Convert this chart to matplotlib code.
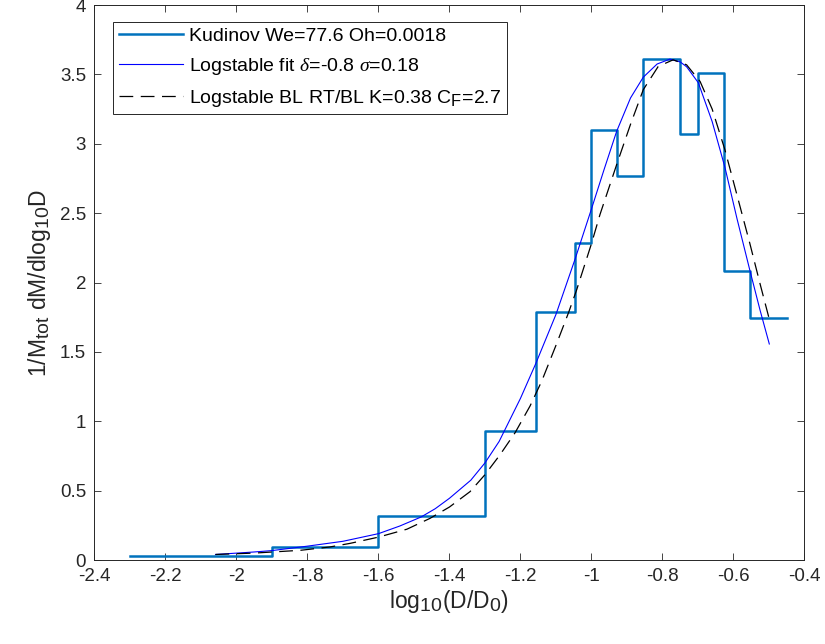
import matplotlib
matplotlib.use('Agg')
import matplotlib.pyplot as plt
import matplotlib._mathtext as mathtext_impl

# MATLAB draws sub-scripts only a little smaller than the base text
mathtext_impl.SHRINK_FACTOR = 0.85

plt.rcParams['font.family'] = ['Liberation Sans', 'DejaVu Sans']
plt.rcParams['mathtext.fontset'] = 'custom'
plt.rcParams['mathtext.rm'] = 'Liberation Sans'
plt.rcParams['mathtext.it'] = 'Liberation Serif:italic'
plt.rcParams['mathtext.default'] = 'rm'

AX_COLOR = '#262626'

# histogram (stairs) from Kudinov data
bin_edges = [-2.30, -1.90, -1.60, -1.30, -1.155, -1.046, -1.00, -0.928,
             -0.854, -0.751, -0.699, -0.626, -0.553, -0.45]
bin_values = [0.031, 0.096, 0.317, 0.932, 1.786, 2.288, 3.098, 2.769,
              3.61, 3.074, 3.511, 2.081, 1.743]

# logstable fit curve
fit_x = [-2.059, -1.95, -1.90, -1.80, -1.70, -1.60, -1.54, -1.48, -1.44,
         -1.40, -1.34, -1.30, -1.26, -1.20, -1.157, -1.10, -1.046, -1.00,
         -0.965, -0.929, -0.89, -0.854, -0.815, -0.779, -0.75, -0.732,
         -0.699, -0.66, -0.624, -0.59, -0.554, -0.525, -0.499]
fit_y = [0.040, 0.058, 0.068, 0.100, 0.135, 0.190, 0.245, 0.310, 0.370,
         0.445, 0.575, 0.700, 0.855, 1.165, 1.415, 1.770, 2.170, 2.530,
         2.810, 3.090, 3.330, 3.480, 3.575, 3.610, 3.590, 3.555,
         3.440, 3.160, 2.830, 2.460, 2.090, 1.800, 1.557]

# logstable BL RT/BL curve
bl_x = [-2.059, -1.95, -1.82, -1.737, -1.68, -1.60, -1.52, -1.455, -1.40,
        -1.342, -1.30, -1.258, -1.215, -1.173, -1.14, -1.098, -1.065,
        -1.042, -1.00, -0.976, -0.929, -0.89, -0.854, -0.812, -0.77,
        -0.732, -0.694, -0.66, -0.624, -0.59, -0.554, -0.525, -0.499]
bl_y = [0.040, 0.050, 0.070, 0.094, 0.120, 0.165, 0.222, 0.300, 0.382,
        0.493, 0.615, 0.757, 0.918, 1.110, 1.290, 1.560, 1.780,
        1.945, 2.280, 2.490, 2.850, 3.140, 3.390, 3.557, 3.605,
        3.569, 3.449, 3.250, 2.956, 2.630, 2.283, 1.990, 1.735]

fig = plt.figure(figsize=(8.25, 6.44), dpi=100)
ax = fig.add_axes([0.1145, 0.1304, 0.8606, 0.8618])

ax.step(bin_edges, bin_values + [bin_values[-1]], where='post',
        color='#0072BD', lw=1.8, label='Kudinov We=77.6 Oh=0.0018')
ax.plot(fit_x, fit_y, color='#0000FF', lw=0.8,
        label=r'Logstable fit $\mathit{\delta}$=-0.8 $\mathit{\sigma}$=0.18')
line, = ax.plot(bl_x, bl_y, color='black', lw=0.9,
                label=r'Logstable BL RT/BL K=0.38 C$_F$=2.7')
line.set_dashes([11, 6])

ax.set_xlim(-2.4, -0.4)
ax.set_ylim(0, 4)
ax.set_xticks([-2.4, -2.2, -2, -1.8, -1.6, -1.4, -1.2, -1, -0.8, -0.6, -0.4])
ax.set_xticklabels(['-2.4', '-2.2', '-2', '-1.8', '-1.6', '-1.4', '-1.2',
                    '-1', '-0.8', '-0.6', '-0.4'])
ax.set_yticks([0, 0.5, 1, 1.5, 2, 2.5, 3, 3.5, 4])
ax.set_yticklabels(['0', '0.5', '1', '1.5', '2', '2.5', '3', '3.5', '4'])

ax.tick_params(direction='in', length=5, width=0.6, colors=AX_COLOR,
               labelsize=13.5, top=True, right=True, pad=6)
for s in ax.spines.values():
    s.set_color(AX_COLOR)
    s.set_linewidth(0.7)

ax.set_xlabel(r'log$_{10}$(D/D$_0$)', fontsize=16.5, color=AX_COLOR,
              labelpad=2)
ax.set_ylabel(r'1/M$_{tot}$ dM/dlog$_{10}$D', fontsize=16.5, color=AX_COLOR,
              labelpad=5)

leg = ax.legend(loc='upper left', fontsize=14, fancybox=False, framealpha=1,
                edgecolor=AX_COLOR, handlelength=3.3, handletextpad=0.3,
                borderpad=0.3, labelspacing=0.55, borderaxespad=0,
                bbox_to_anchor=(0.026, 0.97))
leg.get_frame().set_linewidth(0.7)

fig.savefig('out.png', dpi=100)
